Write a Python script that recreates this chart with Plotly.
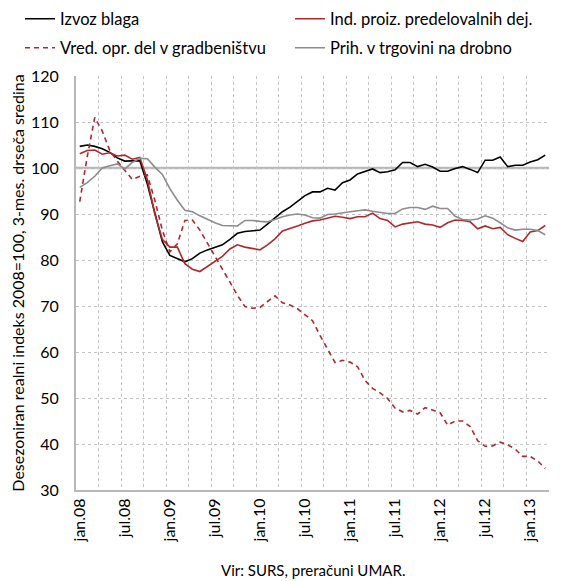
import plotly.graph_objects as go

months = list(range(63))
tick_pos = [0, 6, 12, 18, 24, 30, 36, 42, 48, 54, 60]
tick_text = ["jan.08", "jul.08", "jan.09", "jul.09", "jan.10", "jul.10",
             "jan.11", "jul.11", "jan.12", "jul.12", "jan.13"]

izvoz = [104.7, 105.0, 104.7, 104.2, 103.4, 102.2, 101.5, 101.6, 101.6, 96.5,
         90.0, 84.0, 81.0, 80.3, 79.6, 80.3, 81.5, 82.2, 82.8, 83.3,
         84.5, 85.8, 86.2, 86.3, 86.5, 87.8, 89.2, 90.5, 91.5, 92.8,
         94.0, 94.8, 94.8, 95.6, 95.2, 96.8, 97.4, 98.7, 99.3, 99.8,
         99.0, 99.2, 99.6, 101.2, 101.2, 100.3, 100.8, 100.2, 99.3, 99.3,
         99.9, 100.3, 99.7, 99.0, 101.7, 101.7, 102.4, 100.3, 100.6, 100.6,
         101.3, 101.8, 102.8]

ind_proiz = [103.1, 103.8, 103.9, 103.0, 103.3, 102.6, 102.8, 101.9, 102.3, 97.5,
             90.0, 84.5, 82.8, 82.8, 79.2, 78.0, 77.5, 78.6, 79.8, 80.8,
             82.4, 83.3, 82.8, 82.5, 82.2, 83.3, 84.6, 86.3, 86.8, 87.4,
             88.0, 88.5, 88.7, 89.1, 89.5, 89.3, 89.0, 89.4, 89.4, 90.2,
             89.0, 88.6, 87.2, 87.8, 88.0, 88.3, 87.8, 87.6, 87.1, 88.1,
             88.7, 88.6, 88.3, 86.8, 87.4, 86.8, 87.1, 85.5, 84.7, 84.0,
             86.1, 86.4, 87.5]

gradb = [92.7, 102.5, 111.0, 108.0, 103.8, 101.5, 99.5, 97.5, 98.2, 98.5,
         93.0, 86.5, 81.8, 83.5, 88.6, 88.7, 86.5, 83.6, 80.6, 78.0,
         75.2, 72.3, 69.9, 69.5, 69.7, 70.9, 72.2, 70.7, 70.2, 69.4,
         68.0, 66.8, 63.6, 60.7, 57.7, 58.2, 57.8, 56.8, 53.8, 52.1,
         51.1, 49.9, 47.8, 47.0, 47.3, 46.5, 47.9, 47.4, 46.8, 44.1,
         45.0, 45.0, 43.8, 40.7, 39.5, 39.6, 40.4, 39.8, 38.9, 37.3,
         37.3, 36.3, 34.7]

trgovina = [95.8, 96.8, 98.2, 100.0, 100.5, 100.9, 99.8, 101.2, 102.1, 102.0,
            100.2, 98.6, 95.5, 93.0, 90.8, 90.5, 89.6, 88.8, 88.1, 87.5,
            87.4, 87.4, 88.6, 88.6, 88.4, 88.3, 88.8, 89.4, 89.8, 90.0,
            89.8, 89.2, 89.1, 89.9, 90.0, 90.3, 90.5, 90.7, 90.9, 90.6,
            90.3, 90.1, 90.1, 91.1, 91.4, 91.4, 91.0, 91.7, 91.2, 91.2,
            89.5, 88.8, 88.7, 88.9, 89.6, 89.1, 88.1, 87.0, 86.5, 86.7,
            86.7, 86.4, 85.5]

FONT = "Lato"
RED = "#b0282c"

fig = go.Figure()

fig.add_trace(go.Scatter(x=months, y=izvoz, mode="lines", name="Izvoz blaga",
                         line=dict(color="#000000", width=1.6), legend="legend"))
fig.add_trace(go.Scatter(x=months, y=ind_proiz, mode="lines",
                         name="Ind. proiz. predelovalnih dej.",
                         line=dict(color=RED, width=1.6), legend="legend2"))
fig.add_trace(go.Scatter(x=months, y=gradb, mode="lines",
                         name="Vred. opr. del v gradbeništvu",
                         line=dict(color=RED, width=1.6, dash="5px,4px"), legend="legend3"))
fig.add_trace(go.Scatter(x=months, y=trgovina, mode="lines",
                         name="Prih. v trgovini na drobno",
                         line=dict(color="#8c8c8c", width=1.6), legend="legend4"))

# reference line at 100
fig.add_hline(y=100, line=dict(color="#b8b8b8", width=2.5), layer="below")

# figure is drawn 8px inside the page (body margin), so sizes are reduced by 8
W, H = 556, 573
ML, MR, MT, MB = 68, 15, 68, 91
PW = W - ML - MR
PH = H - MT - MB
BOTTOM = H - MB


def leg(xpx, ypx):
    # xpx, ypx: page pixels of the legend item's left edge / vertical centre
    fx, fy = xpx - 8, ypx - 8
    return dict(font=dict(family=FONT, size=16.5, color="#000000"),
                bgcolor="rgba(0,0,0,0)",
                x=(fx - ML) / PW, y=(BOTTOM - fy) / PH,
                xanchor="left", yanchor="middle")


fig.update_layout(
    width=W, height=H,
    margin=dict(l=ML, r=MR, t=MT, b=MB, autoexpand=False),
    paper_bgcolor="white", plot_bgcolor="white",
    showlegend=True,
    font=dict(family=FONT, size=15, color="#000000"),
    legend=leg(20, 19),
    legend2=leg(290, 19),
    legend3=leg(20, 48),
    legend4=leg(290, 48),
    xaxis=dict(
        range=[-0.5, 62.5],
        tickmode="array", tickvals=tick_pos, ticktext=tick_text,
        tickangle=-90, showgrid=False, ticks="",
        tickfont=dict(family=FONT, size=16),
        showline=True, linecolor="#b8b8b8", linewidth=2,
        zeroline=False,
        minor=dict(tick0=-0.5, dtick=3, showgrid=True, gridcolor="#c4c4c4",
                   gridwidth=1, griddash="dot", ticks=""),
    ),
    yaxis=dict(
        range=[30, 120], dtick=10, tick0=30,
        showgrid=True, gridcolor="#c4c4c4", gridwidth=1, griddash="dot",
        showline=True, linecolor="#b8b8b8", linewidth=2,
        zeroline=False, ticks="", ticklabelstandoff=12,
        tickfont=dict(family=FONT, size=16),
        title=dict(text="Desezoniran realni indeks 2008=100, 3-mes. drseča sredina",
                   font=dict(family=FONT, size=16), standoff=5),
    ),
    annotations=[dict(text="Vir: SURS, preračuni UMAR.", xref="paper", yref="paper",
                      x=0.5, y=(BOTTOM - 562) / PH, xanchor="center", yanchor="middle",
                      showarrow=False, font=dict(family=FONT, size=15))],
)

fig.write_html("out.html")
